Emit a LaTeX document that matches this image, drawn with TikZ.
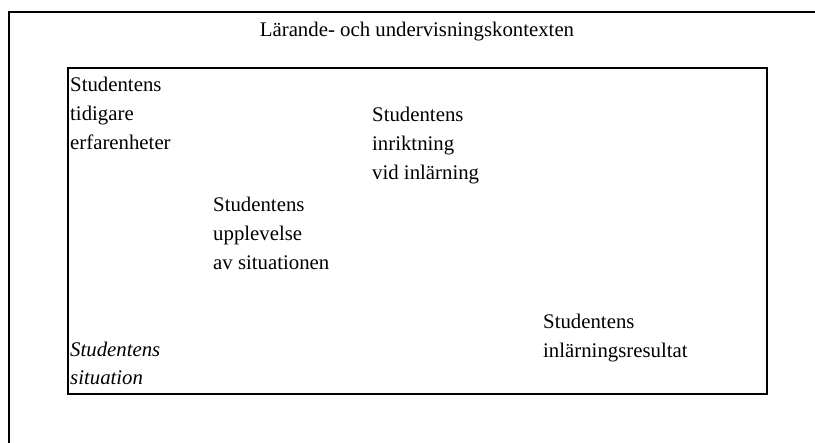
\documentclass[tikz,border=0pt]{standalone}
\usepackage{fontspec}
\setmainfont{Liberation Serif}
\begin{document}
\begin{tikzpicture}[x=1pt,y=-1pt,
  frame/.style={line width=1.6pt},
  lbl/.style={anchor=base west,inner sep=0pt,align=left,
    font=\fontsize{20.8}{29}\selectfont}]
\useasboundingbox (0,0) rectangle (815,443);
% outer context box (cut off at right and bottom)
\coordinate (otl) at (9,12);
\coordinate (otr) at (816,12);
\coordinate (obl) at (9,444);
\draw[frame] (otr) -- (otl) -- (obl);
% inner situation box
\draw[frame] (68,68) rectangle (767,394);
% anchors refer to the baseline of each block's last line
\node[lbl,anchor=base] (title) at (417,37) {Lärande- och undervisningskontexten};
\node[lbl] (prior) at (70,150) {Studentens\\tidigare\\erfarenheter};
\node[lbl] (orient) at (372,180) {Studentens\\inriktning\\vid inlärning};
\node[lbl] (exper) at (213,270) {Studentens\\upplevelse\\av situationen};
\node[lbl] (result) at (543,358) {Studentens\\inlärningsresultat};
\node[lbl,font=\fontsize{20.8}{28}\selectfont\itshape] (sit) at (70,385) {Studentens\\situation};
\end{tikzpicture}
\end{document}
